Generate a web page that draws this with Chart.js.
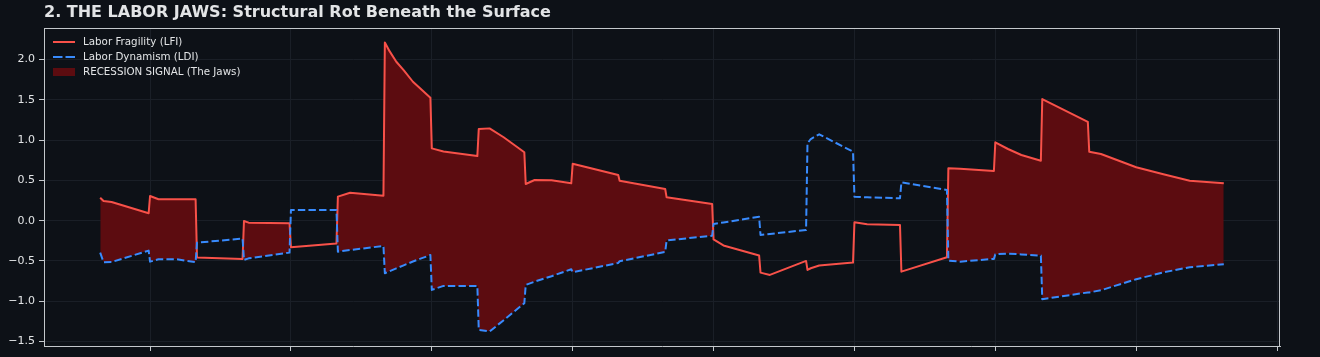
<!DOCTYPE html>
<html>
<head>
<meta charset="utf-8">
<script src="https://cdn.jsdelivr.net/npm/chart.js@4.4.1/dist/chart.umd.min.js"></script>
<style>
  html, body { margin: 0; padding: 0; background: #0d1117; }
  #wrap { width: 1320px; height: 357px; position: relative; }
</style>
</head>
<body>
<div id="wrap"><canvas id="c" width="1320" height="357"></canvas></div>
<script>
// ---- Data (x in years relative to first tick) ----
const timeX = [
  -0.354, -0.330, -0.273, -0.010,
  0.000, 0.060, 0.188, 0.3233,
  0.3333, 0.6567,
  0.6667, 0.700, 0.990,
  1.000, 1.3233,
  1.3333, 1.420, 1.6567,
  1.6667, 1.700, 1.748, 1.800, 1.866, 1.930, 1.990,
  2.000, 2.083, 2.3233,
  2.3333, 2.410, 2.510, 2.6567,
  2.6667, 2.730, 2.850, 2.990,
  3.000, 3.3233,
  3.3333, 3.6567,
  3.6667, 3.990,
  4.000, 4.070, 4.3233,
  4.3333, 4.400, 4.6567,
  4.6667, 4.690, 4.750, 4.990,
  5.000, 5.090, 5.3233,
  5.3333, 5.6567,
  5.6667, 5.750, 5.990,
  6.000, 6.090, 6.185, 6.3233,
  6.3333, 6.6567,
  6.6667, 6.750, 7.000, 7.200, 7.380, 7.622
];
const lfiValues = [
  0.285, 0.244, 0.232, 0.092,
  0.306, 0.266, 0.266, 0.266,
  -0.459, -0.475,
  -0.004, -0.025, -0.032,
  -0.330, -0.285,
  0.298, 0.347, 0.310,
  2.213, 2.105, 1.973, 1.870, 1.725, 1.622, 1.526,
  0.898, 0.859, 0.803,
  1.138, 1.146, 1.036, 0.849,
  0.455, 0.505, 0.501, 0.464,
  0.707, 0.567,
  0.496, 0.393,
  0.290, 0.207,
  -0.233, -0.308, -0.432,
  -0.645, -0.674, -0.500,
  -0.612, -0.591, -0.556, -0.521,
  -0.020, -0.045, -0.053,
  -0.633, -0.454,
  0.650, 0.645, 0.617,
  0.973, 0.890, 0.815, 0.744,
  1.510, 1.228,
  0.856, 0.828, 0.663, 0.574, 0.496, 0.464
];
const ldiValues = [
  -0.397, -0.516, -0.514, -0.372,
  -0.509, -0.479, -0.479, -0.516,
  -0.273, -0.223,
  -0.488, -0.468, -0.397,
  0.133, 0.133,
  -0.385, -0.365, -0.314,
  -0.653, -0.628, -0.593, -0.555, -0.507, -0.466, -0.426,
  -0.860, -0.810, -0.810,
  -1.356, -1.377, -1.236, -1.025,
  -0.798, -0.757, -0.690, -0.603,
  -0.640, -0.525,
  -0.504, -0.388,
  -0.246, -0.187,
  -0.041, -0.022, 0.048,
  -0.177, -0.165, -0.115,
  0.960, 1.014, 1.072, 0.856,
  0.298, 0.290, 0.278,
  0.476, 0.381,
  -0.496, -0.509, -0.475,
  -0.417, -0.409, -0.419, -0.434,
  -0.975, -0.891,
  -0.891, -0.864, -0.727, -0.640, -0.578, -0.541
];
const xTickValues = [0, 1, 2, 3, 4, 5, 6, 7, 8];
const yTickValues = [-1.5, -1.0, -0.5, 0.0, 0.5, 1.0, 1.5, 2.0];
const seriesNames = ['Labor Fragility (LFI)', 'Labor Dynamism (LDI)', 'RECESSION SIGNAL (The Jaws)'];
const titleText = '2. THE LABOR JAWS: Structural Rot Beneath the Surface';

// ---- Styles ----
const BG = '#0d1117';
const RED = '#f85149';
const BLUE = '#388bfd';
const FILL = 'rgb(92,12,16)';
const SPINE = '#c4c8cc';
const GRID = '#1a1f27';
const TEXT = '#e2e4e6';

// matplotlib-like 5% margins
const xmin0 = Math.min(...timeX), xmax0 = Math.max(...timeX);
const allY = lfiValues.concat(ldiValues);
const ymin0 = Math.min(...allY), ymax0 = Math.max(...allY);
const xm = (xmax0 - xmin0) * 0.05, ym = (ymax0 - ymin0) * 0.05;

const bgPlugin = {
  id: 'bg',
  beforeDraw(chart) {
    const ctx = chart.ctx;
    ctx.save();
    ctx.fillStyle = BG;
    ctx.fillRect(0, 0, chart.width, chart.height);
    ctx.restore();
  }
};

const decorPlugin = {
  id: 'decor',
  afterDraw(chart) {
    const ctx = chart.ctx;
    const a = chart.chartArea;
    ctx.save();
    // top and right spines
    ctx.strokeStyle = SPINE;
    ctx.lineWidth = 1;
    ctx.beginPath();
    ctx.moveTo(Math.round(a.left), Math.round(a.top) + 0.5);
    ctx.lineTo(Math.round(a.right), Math.round(a.top) + 0.5);
    ctx.moveTo(Math.round(a.right) - 0.5, Math.round(a.top));
    ctx.lineTo(Math.round(a.right) - 0.5, Math.round(a.bottom));
    ctx.stroke();

    // title
    ctx.fillStyle = TEXT;
    ctx.font = 'bold 16px "DejaVu Sans"';
    ctx.textBaseline = 'alphabetic';
    ctx.textAlign = 'left';
    ctx.fillText(titleText, 44, 17);

    // legend
    const hx0 = 53, hx1 = 75, tx = 83;
    const rows = [42, 57, 72];
    ctx.lineWidth = 2;
    ctx.strokeStyle = RED;
    ctx.setLineDash([]);
    ctx.beginPath(); ctx.moveTo(hx0, rows[0]); ctx.lineTo(hx1, rows[0]); ctx.stroke();
    ctx.strokeStyle = BLUE;
    ctx.setLineDash([9.5, 3]);
    ctx.beginPath(); ctx.moveTo(hx0, rows[1]); ctx.lineTo(hx1, rows[1]); ctx.stroke();
    ctx.setLineDash([]);
    ctx.fillStyle = FILL;
    ctx.fillRect(hx0, rows[2] - 4, hx1 - hx0, 8);
    ctx.fillStyle = TEXT;
    ctx.font = '10.3px "DejaVu Sans"';
    ctx.textBaseline = 'middle';
    for (let i = 0; i < 3; i++) ctx.fillText(seriesNames[i], tx, rows[i] + 0.5);
    ctx.restore();
  }
};

const fmt = v => (v < 0 ? '\u2212' : '') + Math.abs(v).toFixed(1);

new Chart(document.getElementById('c'), {
  type: 'line',
  data: {
    datasets: [
      {
        label: seriesNames[0],
        data: timeX.map((x, i) => ({ x, y: lfiValues[i] })),
        borderColor: RED,
        borderWidth: 2,
        pointRadius: 0,
        tension: 0,
        borderJoinStyle: 'round',
        fill: { target: 1, above: FILL, below: 'rgba(0,0,0,0)' },
        order: 1
      },
      {
        label: seriesNames[1],
        data: timeX.map((x, i) => ({ x, y: ldiValues[i] })),
        borderColor: BLUE,
        borderWidth: 2,
        borderDash: [7.4, 3.2],
        borderCapStyle: 'butt',
        borderJoinStyle: 'round',
        pointRadius: 0,
        tension: 0,
        fill: false,
        order: 0
      }
    ]
  },
  options: {
    responsive: false,
    animation: false,
    devicePixelRatio: 1,
    layout: { padding: { top: 28, right: 40, bottom: 0, left: 0 } },
    plugins: {
      legend: { display: false },
      title: { display: false },
      tooltip: { enabled: false },
      filler: { propagate: false }
    },
    scales: {
      x: {
        type: 'linear',
        min: xmin0 - xm,
        max: xmax0 + xm,
        afterBuildTicks: s => { s.ticks = xTickValues.map(v => ({ value: v })); },
        afterFit: s => { s.height = 11; },
        ticks: { display: false },
        grid: { color: GRID, lineWidth: 1, tickColor: SPINE, tickLength: 5, drawTicks: true },
        border: { display: true, color: SPINE, width: 1 }
      },
      y: {
        type: 'linear',
        min: ymin0 - ym,
        max: ymax0 + ym,
        afterBuildTicks: s => { s.ticks = yTickValues.map(v => ({ value: v })); },
        afterFit: s => { s.width = 44; },
        ticks: {
          color: TEXT,
          font: { family: 'DejaVu Sans', size: 11 },
          padding: 4,
          callback: v => fmt(v)
        },
        grid: { color: GRID, lineWidth: 1, tickColor: SPINE, tickLength: 5 },
        border: { display: true, color: SPINE, width: 1 }
      }
    }
  },
  plugins: [bgPlugin, decorPlugin]
});
</script>
</body>
</html>
